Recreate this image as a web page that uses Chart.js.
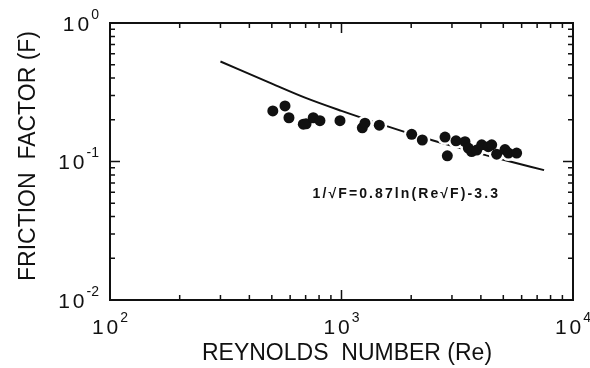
<!DOCTYPE html>
<html>
<head>
<meta charset="utf-8">
<script src="https://cdn.jsdelivr.net/npm/chart.js@4/dist/chart.umd.min.js"></script>
<style>
  body { margin: 0; background: #fff; }
  #wrap { width: 590px; height: 368px; }
</style>
</head>
<body>
<div id="wrap"><canvas id="chart" width="590" height="368"></canvas></div>
<script>
// measured points (Reynolds number, friction factor)
const reValues = [505, 570, 593, 684, 703, 755, 807, 985, 1230, 1263, 1456, 2010, 2234, 2800,
  2865, 3124, 3415, 3530, 3650, 3838, 4033, 4307, 4455, 4680, 5085, 5260, 5710];
const fValues = [0.232, 0.252, 0.207, 0.186, 0.187, 0.207, 0.197, 0.197, 0.175, 0.189, 0.183, 0.157, 0.143, 0.150,
  0.110, 0.141, 0.139, 0.125, 0.118, 0.121, 0.132, 0.128, 0.132, 0.113, 0.122, 0.115, 0.115];

// correlation curve 1/sqrt(F) = 0.87 ln(Re sqrt(F)) - 3.3
const curveRe = [300, 500, 700, 1000, 1500, 2000, 3000, 4000, 5000, 7500];
const curveF = [0.527, 0.365, 0.288, 0.232, 0.1845, 0.158, 0.1296, 0.1135, 0.103, 0.0866];

const xDecades = [2, 3, 4];
const yDecades = [0, -1, -2];
const xTitle = "REYNOLDS  NUMBER (Re)";
const yTitle = "FRICTION  FACTOR (F)";
const equation = "1/\u221AF=0.87ln(Re\u221AF)-3.3";

const points = reValues.map((r, i) => ({ x: r, y: fValues[i] }));
const curve = curveRe.map((r, i) => ({ x: r, y: curveF[i] }));

const ink = "#111";
const baseFont = '21px "Liberation Sans", Arial, sans-serif';
const expFont = '14px "Liberation Sans", Arial, sans-serif';

function powLabel(ctx, exp, x, y, align) {
  ctx.font = baseFont;
  ctx.letterSpacing = "3px";
  const wb = ctx.measureText("10").width - 3;
  ctx.font = expFont;
  ctx.letterSpacing = "0px";
  const es = String(exp);
  const we = ctx.measureText(es).width;
  const total = wb + 2 + we;
  let left = align === "right" ? x - total : x - total / 2;
  ctx.textAlign = "left";
  ctx.textBaseline = "alphabetic";
  ctx.font = baseFont;
  ctx.letterSpacing = "3px";
  ctx.fillText("10", left, y);
  ctx.font = expFont;
  ctx.letterSpacing = "0px";
  ctx.fillText(es, left + wb + 2, y - 12);
}

const frame = {
  id: "frame",
  afterDatasetsDraw(chart) {
    const { ctx, chartArea: a, scales } = chart;
    const xs = scales.x, ys = scales.y;
    ctx.save();
    ctx.strokeStyle = ink;
    ctx.fillStyle = ink;
    ctx.lineWidth = 2;
    ctx.strokeRect(a.left, a.top, a.right - a.left, a.bottom - a.top);

    ctx.lineWidth = 1.5;
    ctx.beginPath();
    // x ticks, inward on bottom and top
    for (let d = 2; d <= 4; d++) {
      for (let m = 1; m <= 9; m++) {
        if (d === 4 && m > 1) break;
        const px = xs.getPixelForValue(m * Math.pow(10, d));
        const len = m === 1 ? 10 : 5;
        ctx.moveTo(px, a.bottom); ctx.lineTo(px, a.bottom - len);
        ctx.moveTo(px, a.top); ctx.lineTo(px, a.top + len);
      }
    }
    // y ticks, inward on left and right
    for (let d = -2; d <= 0; d++) {
      for (let m = 1; m <= 9; m++) {
        if (d === 0 && m > 1) break;
        const py = ys.getPixelForValue(m * Math.pow(10, d));
        const len = m === 1 ? 10 : 5;
        ctx.moveTo(a.left, py); ctx.lineTo(a.left + len, py);
        ctx.moveTo(a.right, py); ctx.lineTo(a.right - len, py);
      }
    }
    ctx.stroke();

    // tick labels
    xDecades.forEach(d => powLabel(ctx, d, xs.getPixelForValue(Math.pow(10, d)), 334, "center"));
    yDecades.forEach(d => powLabel(ctx, d, 99, ys.getPixelForValue(Math.pow(10, d)) + 7.5, "right"));

    // axis titles
    ctx.font = '23px "Liberation Sans", Arial, sans-serif';
    ctx.textAlign = "center";
    ctx.textBaseline = "alphabetic";
    ctx.fillText(xTitle, 347, 360);
    ctx.save();
    ctx.translate(35, 156);
    ctx.rotate(-Math.PI / 2);
    ctx.fillText(yTitle, 0, 0);
    ctx.restore();

    // equation
    ctx.font = 'bold 14px "Liberation Sans", Arial, sans-serif';
    ctx.letterSpacing = "2.1px";
    ctx.textAlign = "left";
    ctx.fillText(equation, xs.getPixelForValue(750), ys.getPixelForValue(0.0545));
    ctx.restore();
  }
};

new Chart(document.getElementById("chart"), {
  data: {
    datasets: [
      {
        // black dots
        type: "scatter",
        data: points,
        backgroundColor: ink,
        borderWidth: 0,
        pointRadius: 5.5,
        order: 0
      },
      {
        // white halo that breaks the curve around the dots
        type: "scatter",
        data: points,
        backgroundColor: "#fff",
        borderWidth: 0,
        pointRadius: 8,
        order: 1
      },
      {
        type: "line",
        data: curve,
        borderColor: ink,
        borderWidth: 2,
        pointRadius: 0,
        cubicInterpolationMode: "monotone",
        fill: false,
        order: 2
      }
    ]
  },
  options: {
    responsive: false,
    animation: false,
    layout: { padding: { left: 110, right: 17, top: 23, bottom: 68 } },
    plugins: { legend: { display: false }, tooltip: { enabled: false } },
    scales: {
      x: { type: "logarithmic", min: 100, max: 10000, display: false },
      y: { type: "logarithmic", min: 0.01, max: 1, display: false }
    }
  },
  plugins: [frame]
});
</script>
</body>
</html>
